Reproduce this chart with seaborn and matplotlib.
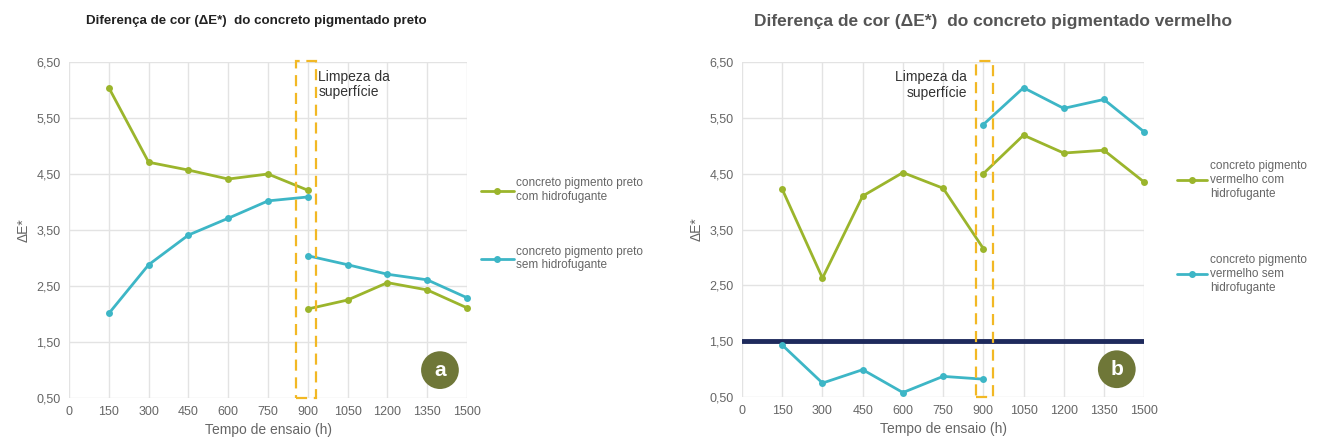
import numpy as np
import pandas as pd
import matplotlib
matplotlib.use('Agg')
import matplotlib.pyplot as plt
import seaborn as sns
from matplotlib.lines import Line2D
from matplotlib.patches import Rectangle
from matplotlib.ticker import FuncFormatter

# ---- data ----
tempo_antes = [150, 300, 450, 600, 750, 900]
tempo_depois = [900, 1050, 1200, 1350, 1500]

preto_com_antes = [6.04, 4.71, 4.57, 4.41, 4.50, 4.21]
preto_com_depois = [2.09, 2.25, 2.56, 2.43, 2.11]
preto_sem_antes = [2.01, 2.88, 3.41, 3.71, 4.02, 4.09]
preto_sem_depois = [3.04, 2.88, 2.71, 2.61, 2.29]

verm_com_antes = [4.22, 2.63, 4.10, 4.52, 4.24, 3.16]
verm_com_depois = [4.50, 5.19, 4.87, 4.92, 4.35]
verm_sem_antes = [1.43, 0.75, 0.99, 0.58, 0.87, 0.82]
verm_sem_depois = [5.38, 6.04, 5.67, 5.83, 5.25]

limite_verm = 1.5
limpeza_preto = (855, 930)
limpeza_verm = (873, 937)

xticks = [0, 150, 300, 450, 600, 750, 900, 1050, 1200, 1350, 1500]
yticks = [0.5, 1.5, 2.5, 3.5, 4.5, 5.5, 6.5]

lab_preto = ['concreto pigmento preto\ncom hidrofugante',
             'concreto pigmento preto\nsem hidrofugante']
lab_verm = ['concreto pigmento\nvermelho com\nhidrofugante',
            'concreto pigmento\nvermelho sem\nhidrofugante']

VERDE = '#9bb52c'
CIANO = '#3db6c6'
NAVY = '#1e2a5c'
LARANJA = '#f2b824'
OLIVA = '#6f7738'
CINZA = '#666666'


def long_df(labels, com_a, com_d, sem_a, sem_d):
    rows = []
    for t, v in zip(tempo_antes, com_a):
        rows.append((t, v, labels[0], 'antes'))
    for t, v in zip(tempo_depois, com_d):
        rows.append((t, v, labels[0], 'depois'))
    for t, v in zip(tempo_antes, sem_a):
        rows.append((t, v, labels[1], 'antes'))
    for t, v in zip(tempo_depois, sem_d):
        rows.append((t, v, labels[1], 'depois'))
    return pd.DataFrame(rows, columns=['tempo', 'dE', 'serie', 'trecho'])


df_preto = long_df(lab_preto, preto_com_antes, preto_com_depois, preto_sem_antes, preto_sem_depois)
df_verm = long_df(lab_verm, verm_com_antes, verm_com_depois, verm_sem_antes, verm_sem_depois)

sns.set_theme(style='whitegrid')
plt.rcParams['font.family'] = ['Liberation Sans', 'DejaVu Sans']

fig = plt.figure(figsize=(13.23, 4.46), dpi=100)
ax1 = fig.add_axes([0.0522, 0.1076, 0.3008, 0.7534])
ax2 = fig.add_axes([0.5609, 0.1098, 0.3039, 0.7511])


def desenha(ax, df, labels, box):
    sns.lineplot(data=df, x='tempo', y='dE', hue='serie', units='trecho',
                 estimator=None, palette=[VERDE, CIANO], hue_order=labels,
                 marker='o', markersize=5, markeredgewidth=0, linewidth=2,
                 legend=False, ax=ax, zorder=3)
    for ln in ax.lines:
        ln.set_clip_on(False)
    ax.set_xlim(0, 1500)
    ax.set_ylim(0.5, 6.5)
    ax.set_xticks(xticks)
    ax.set_yticks(yticks)
    ax.yaxis.set_major_formatter(FuncFormatter(lambda v, p: f'{v:.2f}'.replace('.', ',')))
    ax.grid(True, color='#e3e3e3', linewidth=1)
    for s in ax.spines.values():
        s.set_visible(False)
    ax.tick_params(axis='both', labelsize=9, labelcolor=CINZA, length=0, pad=6)
    ax.set_xlabel('Tempo de ensaio (h)', fontsize=10, color=CINZA, labelpad=3)
    ax.set_ylabel('ΔE*', fontsize=10, color=CINZA, labelpad=4)
    ax.add_patch(Rectangle((box[0], 0.5), box[1] - box[0], 6.02, fill=False,
                           edgecolor=LARANJA, linestyle=(0, (5, 3)), linewidth=1.6,
                           clip_on=False, zorder=4))
    handles = [Line2D([], [], color=c, marker='o', markersize=4, linewidth=2)
               for c in (VERDE, CIANO)]
    return handles


h1 = desenha(ax1, df_preto, lab_preto, limpeza_preto)
h2 = desenha(ax2, df_verm, lab_verm, limpeza_verm)

ax2.axhline(limite_verm, color=NAVY, linewidth=3.5, zorder=2)

ax1.text(940, 6.35, 'Limpeza da\nsuperfície', fontsize=10, color='#333333',
         ha='left', va='top', linespacing=1.1)
ax2.text(840, 6.35, 'Limpeza da\nsuperfície', fontsize=10, color='#333333',
         ha='right', va='top', linespacing=1.1)

fig.text(0.1935, 0.953, 'Diferença de cor (ΔE*)  do concreto pigmentado preto',
         fontsize=9.6, fontweight='bold', color='#222222', ha='center', va='center')
fig.text(0.7508, 0.952, 'Diferença de cor (ΔE*)  do concreto pigmentado vermelho',
         fontsize=12.5, fontweight='bold', color='#555555', ha='center', va='center')

fig.legend(h1, lab_preto, loc='center left', bbox_to_anchor=(0.359, 0.497),
           frameon=False, fontsize=8.5, labelcolor=CINZA, handlelength=2.8,
           handletextpad=0.2, labelspacing=3.6, borderpad=0)
fig.legend(h2, lab_verm, loc='center left', bbox_to_anchor=(0.885, 0.491),
           frameon=False, fontsize=8.5, labelcolor=CINZA, handlelength=2.6,
           handletextpad=0.2, labelspacing=4.6, borderpad=0)

for ax, letra in ((ax1, 'a'), (ax2, 'b')):
    ax.text(0.932, 0.083, letra, transform=ax.transAxes, fontsize=15,
            fontweight='bold', color='white', ha='center', va='center',
            bbox=dict(boxstyle='circle,pad=0.45', fc=OLIVA, ec='none'), zorder=6)

fig.savefig('out.png', dpi=100)
